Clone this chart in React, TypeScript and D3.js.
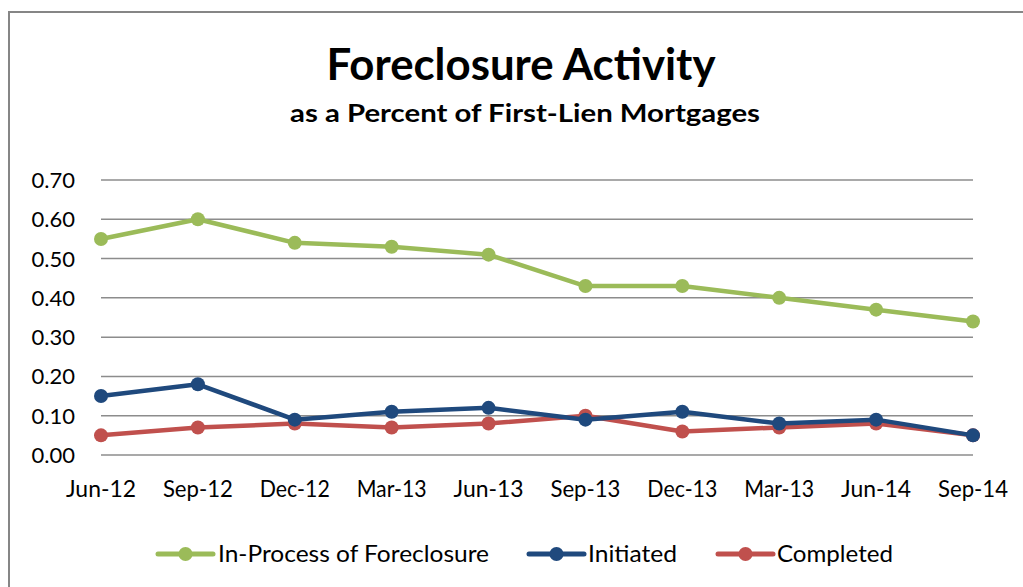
import React from "react";
import * as d3 from "d3";

const categories = ["Jun-12", "Sep-12", "Dec-12", "Mar-13", "Jun-13", "Sep-13", "Dec-13", "Mar-13", "Jun-14", "Sep-14"];
const inProcess = [0.55, 0.60, 0.54, 0.53, 0.51, 0.43, 0.43, 0.40, 0.37, 0.34];
const initiated = [0.15, 0.18, 0.09, 0.11, 0.12, 0.09, 0.11, 0.08, 0.09, 0.05];
const completed = [0.05, 0.07, 0.08, 0.07, 0.08, 0.10, 0.06, 0.07, 0.08, 0.05];
const yTicks = [0, 0.1, 0.2, 0.3, 0.4, 0.5, 0.6, 0.7];

const series = [
  { name: "In-Process of Foreclosure", values: inProcess, color: "#9BBB59" },
  { name: "Initiated", values: initiated, color: "#1F497D" },
  { name: "Completed", values: completed, color: "#C0504D" },
];

const FONT = "Lato, 'Open Sans', sans-serif";

export default function App() {
  const W = 1023, H = 587;
  const x = d3.scalePoint<number>().domain(d3.range(categories.length)).range([101, 973]);
  const y = d3.scaleLinear().domain([0, 0.7]).range([455, 180]);
  const line = d3.line<number>().x((_, i) => x(i)!).y((d) => y(d));
  const drawOrder = [series[0], series[2], series[1]];
  const legendPos = [
    { lx: 158, tx: 218, tl: 271 },
    { lx: 529, tx: 588, tl: 89 },
    { lx: 718, tx: 777, tl: 116 },
  ];
  return (
    <svg width={W} height={H} style={{ position: "absolute", left: 0, top: 0 }}>
      <rect x={0} y={0} width={W} height={H} fill="#fff" />
      <rect x={9} y={12} width={1030} height={600} fill="#fff" stroke="#868686" strokeWidth={2} />
      <text x={521} y={80} textAnchor="middle" fontFamily={FONT} fontWeight="bold" fontSize={44} textLength={389} lengthAdjust="spacingAndGlyphs" fill="#000">Foreclosure Activity</text>
      <text x={525} y={122} textAnchor="middle" fontFamily={FONT} fontWeight="bold" fontSize={25} textLength={470} lengthAdjust="spacingAndGlyphs" fill="#000">as a Percent of First-Lien Mortgages</text>
      {yTicks.map((t) => (
        <g key={t}>
          <line x1={101} x2={973} y1={y(t)} y2={y(t)} stroke="#8c8c8c" strokeWidth={1.5} />
          <text x={75} y={y(t) + 8} textAnchor="end" fontFamily={FONT} fontSize={22} fill="#000">{t.toFixed(2)}</text>
        </g>
      ))}
      {categories.map((c, i) => (
        <text key={i} x={x(i)!} y={497} textAnchor="middle" fontFamily={FONT} fontSize={23} textLength={70} lengthAdjust="spacingAndGlyphs" fill="#000">{c}</text>
      ))}
      {drawOrder.map((s) => (
        <g key={s.name}>
          <path d={line(s.values)!} fill="none" stroke={s.color} strokeWidth={4.5} strokeLinejoin="round" />
          {s.values.map((v, i) => (
            <circle key={i} cx={x(i)!} cy={y(v)} r={7} fill={s.color} />
          ))}
        </g>
      ))}
      {series.map((s, i) => (
        <g key={s.name}>
          <line x1={legendPos[i].lx} x2={legendPos[i].lx + 55} y1={554} y2={554} stroke={s.color} strokeWidth={5} strokeLinecap="round" />
          <circle cx={legendPos[i].lx + 27.5} cy={554} r={7} fill={s.color} />
          <text x={legendPos[i].tx} y={562} fontFamily={FONT} fontSize={23} textLength={legendPos[i].tl} lengthAdjust="spacingAndGlyphs" fill="#000">{s.name}</text>
        </g>
      ))}
    </svg>
  );
}
